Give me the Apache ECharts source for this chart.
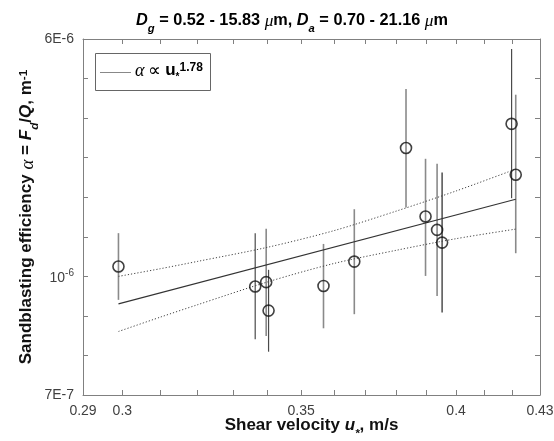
<!DOCTYPE html>
<html><head><meta charset="utf-8">
<script src="https://cdn.jsdelivr.net/npm/echarts@6/dist/echarts.min.js"></script>
<style>html,body{margin:0;padding:0;background:#fff;}#c{width:554px;height:441px;}</style>
</head><body><div id="c"></div>
<script>
// ---- data ----
const shearVelocity = [0.2990, 0.3364, 0.3396, 0.3403, 0.3568, 0.3664, 0.3831, 0.3896, 0.3935, 0.3952, 0.4196, 0.4211];
const efficiency     = [1.520e-6, 1.347e-6, 1.383e-6, 1.165e-6, 1.352e-6, 1.566e-6, 3.107e-6, 2.055e-6, 1.896e-6, 1.756e-6, 3.596e-6, 2.644e-6];
const efficiencyLow  = [1.243e-6, 0.980e-6, 1.000e-6, 0.909e-6, 1.047e-6, 1.140e-6, 2.169e-6, 1.436e-6, 1.273e-6, 1.151e-6, 2.296e-6, 1.647e-6];
const efficiencyHigh = [1.859e-6, 1.859e-6, 1.908e-6, 1.490e-6, 1.742e-6, 2.148e-6, 4.437e-6, 2.912e-6, 2.826e-6, 2.681e-6, 5.648e-6, 4.287e-6];
const fitVelocity = [0.299, 0.4211];
const fitEfficiency = [1.213e-6, 2.282e-6];
const bandVelocity = [0.299, 0.31, 0.32, 0.34, 0.36, 0.38, 0.40, 0.4211];
const bandUpper = [1.432e-6, 1.500e-6, 1.567e-6, 1.707e-6, 1.887e-6, 2.125e-6, 2.398e-6, 2.736e-6];
const bandLower = [1.027e-6, 1.120e-6, 1.206e-6, 1.385e-6, 1.548e-6, 1.677e-6, 1.798e-6, 1.905e-6];
const xRange = [0.29, 0.43];
const xTickValues = [0.30, 0.31, 0.32, 0.33, 0.34, 0.35, 0.36, 0.37, 0.38, 0.39, 0.40, 0.41, 0.42];
const xLabelValues = [0.29, 0.3, 0.35, 0.4, 0.43];
const yRange = [7e-7, 6e-6];
const yTickCount = 9;
const yLabelTexts = {0: '7E-7', 3: '{n|10}{sup|-6}', 9: '6E-6'};
const fitExponent = '1.78';

// ---- styles ----
const barColors = ['#8a8a8a', '#4a4a4a', '#8a8a8a', '#4a4a4a', '#8a8a8a', '#8a8a8a', '#8a8a8a', '#8a8a8a', '#8a8a8a', '#222222', '#4a4a4a', '#8a8a8a'];
const frameColor = '#808080';
const SANS = "'Liberation Sans', Arial, Helvetica, sans-serif";
const SERIF = "'Liberation Serif', 'Times New Roman', serif";

const L = Math.log10;
const xMin = L(xRange[0]), xMax = L(xRange[1]);
const yMin = L(yRange[0]), yMax = L(yRange[1]);
const yStep = (yMax - yMin) / yTickCount;
const yTicks = [];
for (let k = 0; k <= yTickCount; k++) yTicks.push(k === yTickCount ? yMax : yMin + k * yStep);
const yLabelVals = Object.keys(yLabelTexts).map(k => yTicks[+k]);

const chart = echarts.init(document.getElementById('c'), null, {renderer: 'canvas'});

function makeRich(fs) {
  const lh = fs + 2;
  return {
    b:   {fontFamily: SANS, fontWeight: 'bold', fontSize: fs, lineHeight: lh, verticalAlign: 'top', color: '#111'},
    bi:  {fontFamily: SANS, fontWeight: 'bold', fontStyle: 'italic', fontSize: fs, lineHeight: lh, verticalAlign: 'top', color: '#111'},
    sub: {fontFamily: SANS, fontWeight: 'bold', fontStyle: 'italic', fontSize: fs * 0.69, lineHeight: lh, padding: [fs * 0.63, 0, 0, 0], verticalAlign: 'top', color: '#111'},
    sup: {fontFamily: SANS, fontWeight: 'bold', fontSize: fs * 0.69, lineHeight: lh, verticalAlign: 'top', color: '#111'},
    mu:  {fontFamily: SERIF, fontStyle: 'italic', fontSize: fs * 1.06, lineHeight: lh, verticalAlign: 'top', color: '#111'},
    al:  {fontFamily: SERIF, fontStyle: 'italic', fontSize: fs * 1.12, lineHeight: lh, verticalAlign: 'top', color: '#111'}
  };
}

function xAxisBase(pos, showLabels) {
  return {
    type: 'value', position: pos, min: xMin, max: xMax,
    axisLine: {show: true, onZero: false, lineStyle: {color: frameColor, width: 1}},
    axisTick: {show: true, inside: true, length: 5, customValues: xTickValues.map(L), lineStyle: {color: frameColor}},
    axisLabel: {show: showLabels, customValues: xLabelValues.map(L), margin: 9,
      fontFamily: SANS, fontSize: 14, color: '#404040',
      formatter: v => String(parseFloat(Math.pow(10, v).toFixed(2)))},
    splitLine: {show: false}
  };
}
function yAxisBase(pos, showLabels) {
  return {
    type: 'value', position: pos, min: yMin, max: yMax,
    axisLine: {show: true, onZero: false, lineStyle: {color: frameColor, width: 1}},
    axisTick: {show: true, inside: true, length: 5, customValues: yTicks, lineStyle: {color: frameColor}},
    axisLabel: {show: showLabels, customValues: yLabelVals, margin: 9,
      fontFamily: SANS, fontSize: 14, color: '#404040',
      formatter: v => { const k = Math.round((v - yMin) / yStep); return yLabelTexts[k] || ''; },
      rich: {
        n: {fontFamily: SANS, fontSize: 14, lineHeight: 16, padding: [3, 0, 0, 0], verticalAlign: 'top', color: '#404040'},
        sup: {fontFamily: SANS, fontSize: 10, lineHeight: 16, verticalAlign: 'top', color: '#404040'}
      }},
    splitLine: {show: false}
  };
}

const xBottom = xAxisBase('bottom', true);
xBottom.name = '{b|Shear velocity }{bi|u}{sub|*}{b|, m/s}';
xBottom.nameLocation = 'middle';
xBottom.nameGap = 22;
xBottom.nameMoveOverlap = false;
xBottom.nameTextStyle = {rich: makeRich(17)};

const yLeft = yAxisBase('left', true);
yLeft.name = '{b|Sandblasting efficiency }{al|α}{b| = }{bi|F}{sub|d}{b|/}{bi|Q}{b|, m}{sup|-1}';
yLeft.nameLocation = 'middle';
yLeft.nameGap = 46;
yLeft.nameMoveOverlap = false;
yLeft.nameTextStyle = {rich: makeRich(17)};

const errData = shearVelocity.map((u, i) => [L(u), L(efficiencyLow[i]), L(efficiencyHigh[i]), i]);

const option = {
  backgroundColor: '#fff',
  animation: false,
  grid: {left: 83, right: 14, top: 39, bottom: 46, containLabel: false, outerBoundsMode: 'none'},
  xAxis: [xBottom, xAxisBase('top', false)],
  yAxis: [yLeft, yAxisBase('right', false)],
  graphic: [
    {type: 'text', x: 292, y: 13, z: 10,
      style: {text: '{bi|D}{sub|g}{b| = 0.52 - 15.83 }{mu|μ}{b|m, }{bi|D}{sub|a}{b| = 0.70 - 21.16 }{mu|μ}{b|m}',
        rich: makeRich(16.3), align: 'center', verticalAlign: 'top'}},
    {type: 'rect', x: 95.5, y: 53.5, z: 10, shape: {width: 115, height: 37},
      style: {fill: '#fff', stroke: '#666', lineWidth: 1}},
    {type: 'line', z: 11, shape: {x1: 100, y1: 72.5, x2: 131, y2: 72.5},
      style: {stroke: '#888', lineWidth: 1}},
    {type: 'text', x: 135, y: 62, z: 11,
      style: {text: '{al|α}{s| }{pr|∝}{s| }{bu|u}{sub|*}{sup|' + fitExponent + '}', align: 'left', verticalAlign: 'top',
        rich: {
          al: {fontFamily: SERIF, fontStyle: 'italic', fontSize: 18, lineHeight: 18, verticalAlign: 'top', color: '#111'},
          pr: {fontFamily: SERIF, fontSize: 18, lineHeight: 18, verticalAlign: 'top', color: '#111'},
          s:  {fontFamily: SANS, fontSize: 14, lineHeight: 18, verticalAlign: 'top'},
          bu: {fontFamily: SANS, fontWeight: 'bold', fontSize: 17, lineHeight: 18, verticalAlign: 'top', color: '#111'},
          sub: {fontFamily: SANS, fontWeight: 'bold', fontSize: 10, lineHeight: 18, padding: [10, 0, 0, 0], verticalAlign: 'top', color: '#111'},
          sup: {fontFamily: SANS, fontWeight: 'bold', fontSize: 12, lineHeight: 18, verticalAlign: 'top', color: '#111'}
        }}}
  ],
  series: [
    {type: 'custom', name: 'error bars', xAxisIndex: 0, yAxisIndex: 0, z: 2,
      encode: {x: 0, y: [1, 2]},
      data: errData,
      renderItem: (params, api) => {
        const a = api.coord([api.value(0), api.value(1)]);
        const b = api.coord([api.value(0), api.value(2)]);
        const i = api.value(3);
        return {type: 'line', shape: {x1: a[0], y1: a[1], x2: b[0], y2: b[1]},
          style: {stroke: barColors[i], lineWidth: barColors[i] === '#8a8a8a' ? 1.6 : 1.2}};
      }},
    {type: 'line', name: 'fit', z: 3, showSymbol: false, symbol: 'none',
      data: fitVelocity.map((u, i) => [L(u), L(fitEfficiency[i])]),
      lineStyle: {color: '#333', width: 1.1}},
    {type: 'line', name: 'upper', z: 3, showSymbol: false, symbol: 'none', smooth: 0.3,
      data: bandVelocity.map((u, i) => [L(u), L(bandUpper[i])]),
      lineStyle: {color: '#444', width: 1, type: [1.2, 2]}},
    {type: 'line', name: 'lower', z: 3, showSymbol: false, symbol: 'none', smooth: 0.3,
      data: bandVelocity.map((u, i) => [L(u), L(bandLower[i])]),
      lineStyle: {color: '#444', width: 1, type: [1.2, 2]}},
    {type: 'scatter', name: 'data', z: 5, symbol: 'circle', symbolSize: 11,
      data: shearVelocity.map((u, i) => [L(u), L(efficiency[i])]),
      itemStyle: {color: 'rgba(0,0,0,0)', borderColor: '#111', borderWidth: 1.6}}
  ]
};
chart.setOption(option);
</script></body></html>
